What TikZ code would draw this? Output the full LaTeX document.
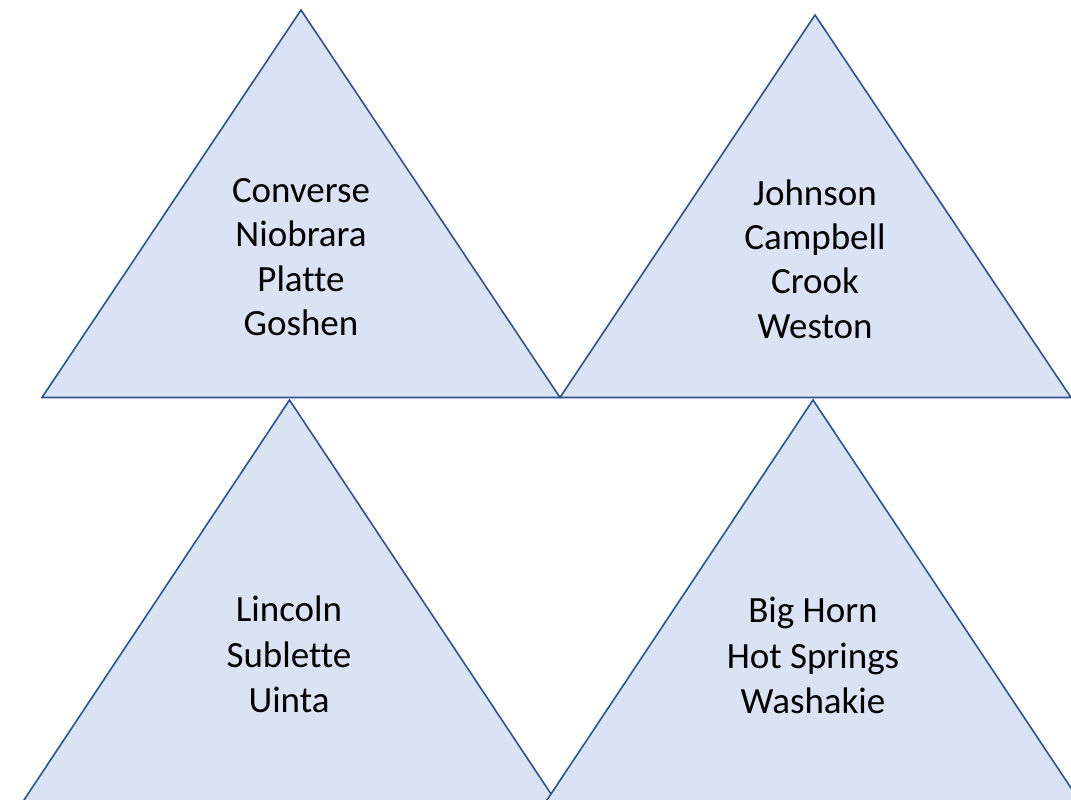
\documentclass[tikz,border=0pt]{standalone}
\usepackage{fontspec}
\setmainfont[Ligatures=NoCommon]{Carlito}
\definecolor{trifill}{HTML}{DAE3F3}
\definecolor{triedge}{HTML}{2F528F}
\begin{document}
\begin{tikzpicture}[x=1pt,y=-1pt,
  tri/.style={fill=trifill,draw=triedge,line width=1.6pt,line join=miter},
  lbl/.style={align=center,inner sep=0pt,text=black},
  lbltop/.style={lbl,font=\fontsize{37}{44.3}\selectfont},
  lblbot/.style={lbl,font=\fontsize{37}{45.5}\selectfont}]
\useasboundingbox (0,0) rectangle (1071,800);
\begin{scope}
\clip (0,0) rectangle (1071,800);
\draw[tri] (301,10) -- (560,397.5) -- (42,397.5) -- cycle;
\draw[tri] (815,15) -- (1071,397.5) -- (560,397.5) -- cycle;
\draw[tri] (289.5,400) -- (563,812) -- (16,812) -- cycle;
\draw[tri] (813,400) -- (1087,812) -- (539,812) -- cycle;
\end{scope}
\node[lbltop] (t1) at (301,257) {Converse\\Niobrara\\Platte\\Goshen};
\node[lbltop] (t2) at (815,259) {Johnson\\Campbell\\Crook\\Weston};
\node[lblbot] (t3) at (289,654.5) {Lincoln\\Sublette\\Uinta};
\node[lblbot] (t4) at (813,655.5) {Big Horn\\Hot Springs\\Washakie};
\end{tikzpicture}
\end{document}
